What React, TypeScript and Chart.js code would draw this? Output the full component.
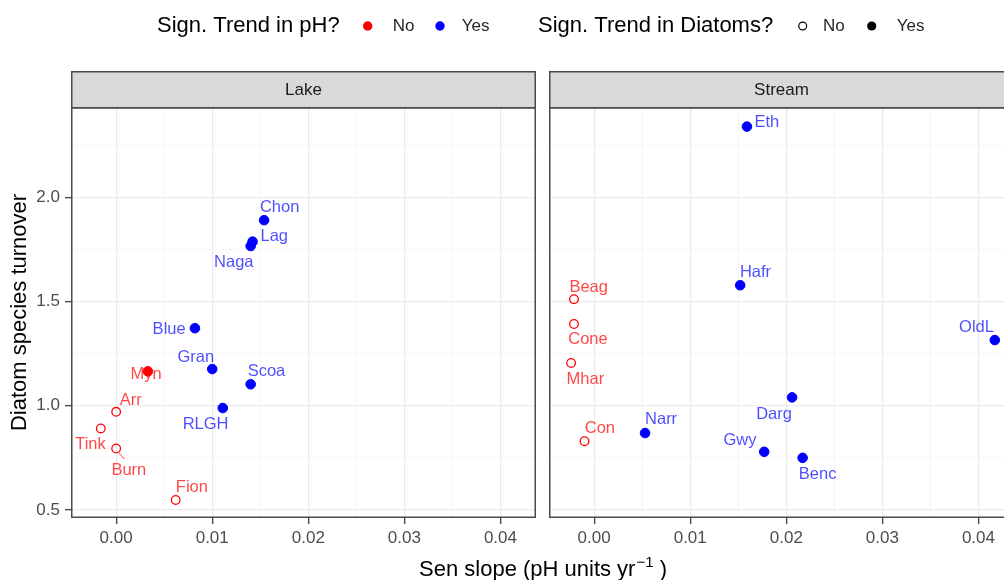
import React, { useEffect, useRef } from 'react';
import { Chart, registerables } from 'chart.js';

Chart.register(...registerables);

// ---------------- data ----------------
const lakeSites = ['Chon', 'Lag', 'Naga', 'Blue', 'Gran', 'Myn', 'Scoa', 'RLGH', 'Arr', 'Tink', 'Burn', 'Fion'];
const lakeSlope = [0.0154, 0.0142, 0.014, 0.0082, 0.01, 0.0033, 0.014, 0.0111, 0.0, -0.0016, 0.0, 0.0062];
const lakeTurnover = [1.89, 1.787, 1.766, 1.372, 1.176, 1.165, 1.103, 0.989, 0.971, 0.891, 0.795, 0.548];
const lakePhTrend = ['Yes', 'Yes', 'Yes', 'Yes', 'Yes', 'No', 'Yes', 'Yes', 'No', 'No', 'No', 'No'];
const lakeDiatomTrend = ['Yes', 'Yes', 'Yes', 'Yes', 'Yes', 'Yes', 'Yes', 'Yes', 'No', 'No', 'No', 'No'];

const streamSites = ['Eth', 'Hafr', 'Beag', 'Cone', 'OldL', 'Mhar', 'Darg', 'Narr', 'Con', 'Gwy', 'Benc'];
const streamSlope = [0.0159, 0.0152, -0.0021, -0.0021, 0.0417, -0.0024, 0.0206, 0.0053, -0.001, 0.0177, 0.0217];
const streamTurnover = [2.339, 1.578, 1.511, 1.392, 1.315, 1.205, 1.04, 0.869, 0.83, 0.779, 0.75];
const streamPhTrend = ['Yes', 'Yes', 'No', 'No', 'Yes', 'No', 'Yes', 'Yes', 'No', 'Yes', 'Yes'];
const streamDiatomTrend = ['Yes', 'Yes', 'No', 'No', 'Yes', 'No', 'Yes', 'Yes', 'No', 'Yes', 'Yes'];

const panelNames = ['Lake', 'Stream'];
const legendPhTitle = 'Sign. Trend in pH?';
const legendDiatomTitle = 'Sign. Trend in Diatoms?';
const legendLevels = ['No', 'Yes'];
const yTitle = 'Diatom species turnover';
const xTitleMain = 'Sen slope (pH units yr';
const xTitleSup = '\u22121';
const xTitleEnd = ' )';

// label nudges (pixels, relative to point) - repel-like placement
const lakeLabelDx = [15.5, 21.7, -16.9, -25.8, -16.5, -1.7, 15.8, -17.2, 14.5, -10.3, 12.7, 16.2];
const lakeLabelDy = [-12.3, -5, 16, 1.7, -11.7, 2.7, -13, 16.7, -11.7, 15.7, 22.3, -12.3];
const streamLabelDx = [20, 15.3, 14.7, 14, -18.3, 14.3, -18, 16, 15.3, -24.3, 15];
const streamLabelDy = [-3.7, -12.7, -11.7, 15.7, -12.3, 16.7, 16.7, -13.3, -13, -11.7, 17];
const segmentSites = ['Burn'];

// ---------------- layout / style ----------------
const FONT = '"Liberation Sans", Arial, Helvetica, sans-serif';
const X_MIN = -0.0047;
const X_MAX = 0.0437;
const Y_MIN = 0.4615;
const Y_MAX = 2.433;
const CW = 1024;
const CH = 580;
const STRIP_TOP = 71;
const PANEL_TOP = 107;
const PANEL_BOTTOM = 518;
const LAKE_LEFT = 71;
const LAKE_RIGHT = 536;
const STREAM_LEFT = 549;
const STREAM_RIGHT = 1014;

const RED = '#ff0000';
const BLUE = '#0000ff';
const LABEL_RED = 'rgba(255,0,0,0.72)';
const LABEL_BLUE = 'rgba(0,0,255,0.7)';
const BORDER = '#4a4a4a';

function isMajor(v: number, step: number) {
  const r = v / step;
  return Math.abs(r - Math.round(r)) < 1e-6;
}

function buildDatasets(slopes: number[], turn: number[], ph: string[], di: string[]) {
  const combos = [
    ['No', 'No'],
    ['No', 'Yes'],
    ['Yes', 'No'],
    ['Yes', 'Yes'],
  ];
  return combos
    .map(([p, d]) => {
      const idx = slopes.map((_, i) => i).filter((i) => ph[i] === p && di[i] === d);
      const col = p === 'Yes' ? BLUE : RED;
      const filled = d === 'Yes';
      return {
        label: p + '/' + d,
        data: idx.map((i) => ({ x: slopes[i], y: turn[i], i })),
        backgroundColor: filled ? col : 'rgba(0,0,0,0)',
        borderColor: col,
        borderWidth: filled ? 1 : 1.3,
        pointRadius: filled ? 4.8 : 4.3,
        pointHoverRadius: filled ? 4.8 : 4.3,
        pointStyle: 'circle',
        showLine: false,
      };
    })
    .filter((ds) => ds.data.length > 0);
}

function xScaleOpts(): any {
  return {
    type: 'linear',
    position: 'bottom',
    min: X_MIN,
    max: X_MAX,
    afterFit: (s: any) => {
      s.height = CH - PANEL_BOTTOM;
    },
    border: { display: false },
    grid: {
      color: (c: any) => (c.tick && isMajor(c.tick.value, 0.01) ? '#ebebeb' : '#f3f3f3'),
      lineWidth: (c: any) => (c.tick && isMajor(c.tick.value, 0.01) ? 1.3 : 0.8),
      tickColor: (c: any) => (c.tick && isMajor(c.tick.value, 0.01) ? BORDER : 'rgba(0,0,0,0)'),
      tickWidth: 1.4,
      tickLength: 6,
      drawTicks: true,
    },
    ticks: {
      stepSize: 0.005,
      includeBounds: false,
      autoSkip: false,
      maxRotation: 0,
      minRotation: 0,
      padding: 4,
      color: '#4d4d4d',
      font: { size: 17, family: FONT },
      callback: (v: number) => (isMajor(v, 0.01) ? (Math.abs(v) < 1e-9 ? '0.00' : v.toFixed(2)) : ''),
    },
  };
}

function yScaleOpts(showTicks: boolean): any {
  return {
    type: 'linear',
    position: 'left',
    min: Y_MIN,
    max: Y_MAX,
    afterFit: (s: any) => {
      s.width = showTicks ? LAKE_LEFT : 0;
    },
    border: { display: false },
    grid: {
      color: (c: any) => (c.tick && isMajor(c.tick.value, 0.5) ? '#ebebeb' : '#f3f3f3'),
      lineWidth: (c: any) => (c.tick && isMajor(c.tick.value, 0.5) ? 1.3 : 0.8),
      tickColor: (c: any) => (c.tick && isMajor(c.tick.value, 0.5) ? BORDER : 'rgba(0,0,0,0)'),
      tickWidth: 1.4,
      tickLength: 6,
      drawTicks: showTicks,
    },
    ticks: {
      display: showTicks,
      stepSize: 0.25,
      includeBounds: false,
      autoSkip: false,
      padding: 5,
      color: '#4d4d4d',
      font: { size: 17, family: FONT },
      callback: (v: number) => (isMajor(v, 0.5) ? v.toFixed(1) : ''),
    },
  };
}

function drawPanelDecor(chart: any, name: string) {
  const ctx = chart.ctx;
  const a = chart.chartArea;
  ctx.save();
  // strip
  ctx.fillStyle = '#d9d9d9';
  ctx.fillRect(a.left, STRIP_TOP, a.right - a.left, a.top - STRIP_TOP);
  ctx.strokeStyle = BORDER;
  ctx.lineWidth = 1.5;
  ctx.strokeRect(a.left + 0.75, STRIP_TOP + 0.75, a.right - a.left - 1.5, a.top - STRIP_TOP);
  ctx.fillStyle = '#1a1a1a';
  ctx.font = '17px ' + FONT;
  ctx.textAlign = 'center';
  ctx.textBaseline = 'middle';
  ctx.fillText(name, (a.left + a.right) / 2, (STRIP_TOP + a.top) / 2 + 1);
  // panel border
  ctx.strokeStyle = BORDER;
  ctx.lineWidth = 1.5;
  ctx.strokeRect(a.left + 0.75, a.top + 0.75, a.right - a.left - 1.5, a.bottom - a.top - 1.5);
  ctx.restore();
}

function drawLabels(chart: any, sites: string[], ph: string[], dx: number[], dy: number[]) {
  const ctx = chart.ctx;
  ctx.save();
  ctx.font = '16.5px ' + FONT;
  ctx.textAlign = 'center';
  ctx.textBaseline = 'middle';
  chart.data.datasets.forEach((ds: any, di: number) => {
    const meta = chart.getDatasetMeta(di);
    meta.data.forEach((el: any, j: number) => {
      const i = ds.data[j].i;
      const col = ph[i] === 'Yes' ? LABEL_BLUE : LABEL_RED;
      ctx.fillStyle = col;
      if (segmentSites.includes(sites[i])) {
        ctx.strokeStyle = col;
        ctx.lineWidth = 1;
        ctx.beginPath();
        ctx.moveTo(el.x + 2.4, el.y + 4);
        ctx.lineTo(el.x + 8.3, el.y + 10.7);
        ctx.stroke();
      }
      ctx.fillText(sites[i], el.x + dx[i], el.y + dy[i]);
    });
  });
  ctx.restore();
}

function drawGlobal(chart: any) {
  const ctx = chart.ctx;
  ctx.save();
  ctx.textBaseline = 'middle';
  ctx.textAlign = 'left';
  const ly = 26;
  // legend 1
  ctx.fillStyle = '#000';
  ctx.font = '22px ' + FONT;
  ctx.fillText(legendPhTitle, 157, ly);
  ctx.fillStyle = RED;
  ctx.beginPath();
  ctx.arc(367.7, ly, 4.7, 0, Math.PI * 2);
  ctx.fill();
  ctx.fillStyle = BLUE;
  ctx.beginPath();
  ctx.arc(440, ly, 4.7, 0, Math.PI * 2);
  ctx.fill();
  ctx.fillStyle = '#262626';
  ctx.font = '17px ' + FONT;
  ctx.fillText(legendLevels[0], 392.7, ly);
  ctx.fillText(legendLevels[1], 461.7, ly);
  // legend 2
  ctx.fillStyle = '#000';
  ctx.font = '22px ' + FONT;
  ctx.fillText(legendDiatomTitle, 538, ly);
  ctx.strokeStyle = '#000';
  ctx.lineWidth = 1.2;
  ctx.beginPath();
  ctx.arc(802.7, ly, 3.9, 0, Math.PI * 2);
  ctx.stroke();
  ctx.fillStyle = '#000';
  ctx.beginPath();
  ctx.arc(871.7, ly, 4.6, 0, Math.PI * 2);
  ctx.fill();
  ctx.fillStyle = '#262626';
  ctx.font = '17px ' + FONT;
  ctx.fillText(legendLevels[0], 823, ly);
  ctx.fillText(legendLevels[1], 896.7, ly);
  // y title
  ctx.save();
  ctx.translate(20, (PANEL_TOP + PANEL_BOTTOM) / 2);
  ctx.rotate(-Math.PI / 2);
  ctx.textAlign = 'center';
  ctx.fillStyle = '#000';
  ctx.font = '22px ' + FONT;
  ctx.fillText(yTitle, 0, 0);
  ctx.restore();
  // x title
  ctx.textBaseline = 'alphabetic';
  ctx.fillStyle = '#000';
  ctx.font = '22px ' + FONT;
  const wA = ctx.measureText(xTitleMain).width;
  const wB = ctx.measureText(xTitleEnd).width;
  ctx.font = '15px ' + FONT;
  const wS = ctx.measureText(xTitleSup).width;
  const total = wA + wS + wB;
  const cx = (LAKE_LEFT + STREAM_RIGHT) / 2;
  const x0 = cx - total / 2;
  const base = 576;
  ctx.font = '22px ' + FONT;
  ctx.fillText(xTitleMain, x0, base);
  ctx.font = '15px ' + FONT;
  ctx.fillText(xTitleSup, x0 + wA + 1, base - 9);
  ctx.font = '22px ' + FONT;
  ctx.fillText(xTitleEnd, x0 + wA + wS + 1, base);
  ctx.restore();
}

function makeConfig(which: 'lake' | 'stream'): any {
  const isLake = which === 'lake';
  const datasets = isLake
    ? buildDatasets(lakeSlope, lakeTurnover, lakePhTrend, lakeDiatomTrend)
    : buildDatasets(streamSlope, streamTurnover, streamPhTrend, streamDiatomTrend);
  const plugin = {
    id: 'decor_' + which,
    afterDatasetsDraw(chart: any) {
      if (isLake) drawLabels(chart, lakeSites, lakePhTrend, lakeLabelDx, lakeLabelDy);
      else drawLabels(chart, streamSites, streamPhTrend, streamLabelDx, streamLabelDy);
    },
    afterDraw(chart: any) {
      drawPanelDecor(chart, isLake ? panelNames[0] : panelNames[1]);
      if (isLake) drawGlobal(chart);
    },
  };
  return {
    type: 'scatter',
    data: { datasets },
    options: {
      responsive: false,
      animation: false,
      devicePixelRatio: 1,
      events: [],
      layout: {
        padding: isLake
          ? { left: 0, right: CW - LAKE_RIGHT, top: PANEL_TOP, bottom: 0 }
          : { left: STREAM_LEFT, right: CW - STREAM_RIGHT, top: PANEL_TOP, bottom: 0 },
      },
      plugins: {
        legend: { display: false },
        tooltip: { enabled: false },
        title: { display: false },
      },
      scales: {
        x: xScaleOpts(),
        y: yScaleOpts(isLake),
      },
    },
    plugins: [plugin],
  };
}

export default function App() {
  const lakeRef = useRef<HTMLCanvasElement>(null);
  const streamRef = useRef<HTMLCanvasElement>(null);
  useEffect(() => {
    Chart.defaults.font.family = FONT;
    const c1 = new Chart(lakeRef.current as HTMLCanvasElement, makeConfig('lake'));
    const c2 = new Chart(streamRef.current as HTMLCanvasElement, makeConfig('stream'));
    return () => {
      c1.destroy();
      c2.destroy();
    };
  }, []);
  const cs: React.CSSProperties = { position: 'absolute', left: 0, top: 0, width: CW, height: CH };
  return (
    <div style={{ position: 'fixed', left: 0, top: 0, width: 1004, height: 580, overflow: 'hidden', background: '#ffffff' }}>
      <canvas ref={lakeRef} width={CW} height={CH} style={cs} />
      <canvas ref={streamRef} width={CW} height={CH} style={cs} />
    </div>
  );
}
